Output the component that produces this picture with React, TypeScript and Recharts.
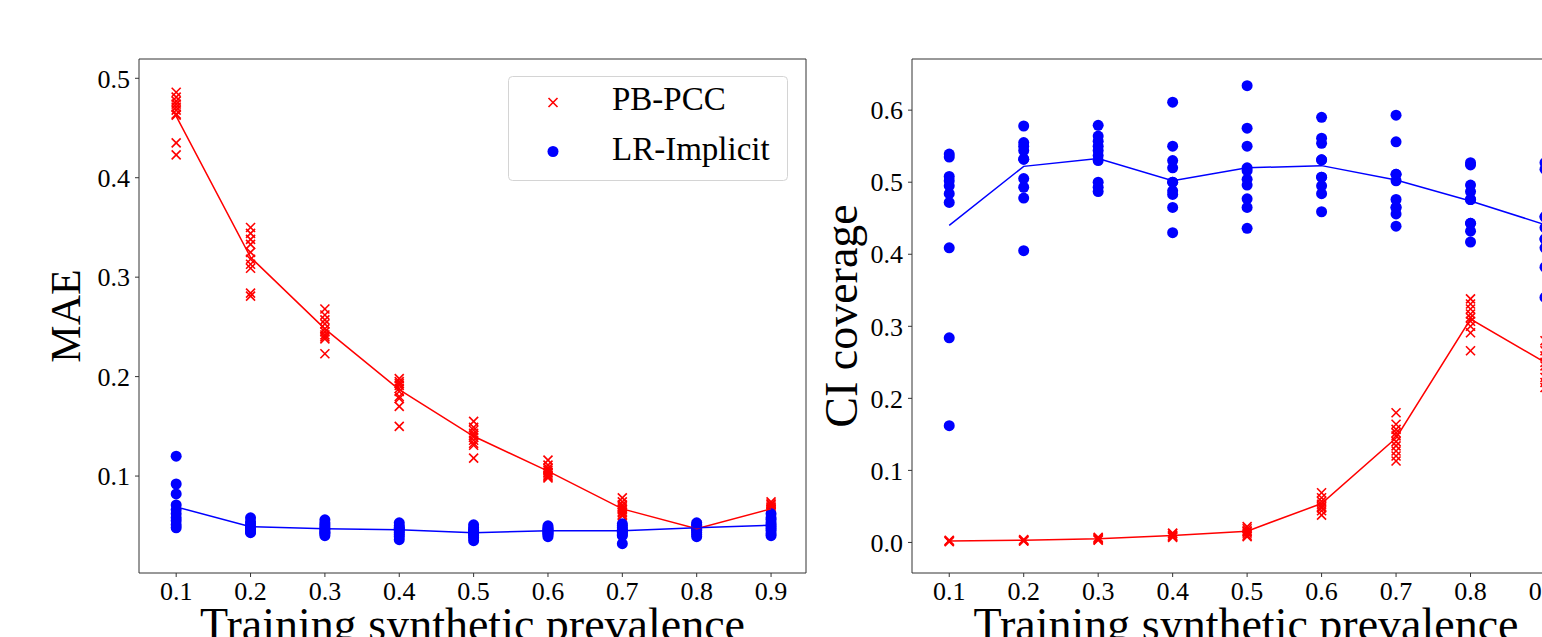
import React from 'react';
import { ScatterChart, Scatter, XAxis, YAxis, ReferenceLine } from 'recharts';

const prevalence = [0.1, 0.2, 0.3, 0.4, 0.5, 0.6, 0.7, 0.8, 0.9];

// MAE panel: one row of runs per training prevalence
const maePbPcc = [
  [0.486, 0.481, 0.477, 0.474, 0.471, 0.468, 0.464, 0.463, 0.435, 0.423],
  [0.35, 0.344, 0.338, 0.333, 0.325, 0.318, 0.313, 0.309, 0.284, 0.281],
  [0.268, 0.262, 0.257, 0.253, 0.248, 0.245, 0.242, 0.24, 0.238, 0.223],
  [0.198, 0.195, 0.193, 0.191, 0.188, 0.185, 0.18, 0.178, 0.17, 0.15],
  [0.155, 0.149, 0.146, 0.143, 0.141, 0.139, 0.136, 0.133, 0.131, 0.118],
  [0.116, 0.111, 0.108, 0.106, 0.104, 0.103, 0.101, 0.1, 0.099, 0.098],
  [0.078, 0.074, 0.071, 0.069, 0.067, 0.066, 0.064, 0.063, 0.061, 0.06],
  [0.051, 0.05, 0.049, 0.048, 0.047, 0.047, 0.046, 0.046, 0.045, 0.045],
  [0.074, 0.072, 0.071, 0.069, 0.068, 0.067, 0.066, 0.065, 0.064, 0.063],
];
const maeLrImplicit = [
  [0.12, 0.092, 0.082, 0.071, 0.066, 0.062, 0.058, 0.055, 0.051, 0.048],
  [0.058, 0.054, 0.052, 0.049, 0.048, 0.047, 0.046, 0.045, 0.044, 0.043],
  [0.056, 0.053, 0.051, 0.049, 0.047, 0.046, 0.044, 0.043, 0.042, 0.04],
  [0.053, 0.05, 0.048, 0.047, 0.046, 0.045, 0.043, 0.041, 0.039, 0.036],
  [0.051, 0.048, 0.046, 0.045, 0.044, 0.043, 0.042, 0.04, 0.038, 0.035],
  [0.05, 0.048, 0.047, 0.046, 0.045, 0.044, 0.043, 0.042, 0.041, 0.039],
  [0.052, 0.05, 0.048, 0.046, 0.045, 0.044, 0.043, 0.041, 0.04, 0.032],
  [0.053, 0.051, 0.05, 0.048, 0.047, 0.046, 0.045, 0.043, 0.041, 0.039],
  [0.062, 0.058, 0.056, 0.053, 0.051, 0.049, 0.047, 0.045, 0.042, 0.04],
];
const maePbPccMean = [0.462, 0.32, 0.248, 0.187, 0.14, 0.105, 0.067, 0.047, 0.067];
const maeLrImplicitMean = [0.069, 0.049, 0.047, 0.046, 0.043, 0.045, 0.045, 0.048, 0.0505];

// CI coverage panel
const ciPbPcc = [
  [0.002, 0.002, 0.001, 0.002, 0.003],
  [0.004, 0.003, 0.002, 0.003, 0.002],
  [0.007, 0.006, 0.005, 0.004, 0.003],
  [0.013, 0.012, 0.01, 0.009, 0.008, 0.007],
  [0.022, 0.019, 0.016, 0.015, 0.013, 0.01, 0.008],
  [0.069, 0.062, 0.057, 0.053, 0.05, 0.048, 0.044, 0.038],
  [0.18, 0.164, 0.157, 0.152, 0.148, 0.14, 0.134, 0.127, 0.12, 0.113],
  [0.338, 0.331, 0.324, 0.317, 0.312, 0.307, 0.3, 0.291, 0.266],
  [0.28, 0.266, 0.259, 0.25, 0.245, 0.229, 0.222, 0.215],
];
const ciLrImplicit = [
  [0.539, 0.535, 0.508, 0.502, 0.495, 0.484, 0.472, 0.409, 0.284, 0.162],
  [0.578, 0.555, 0.55, 0.544, 0.532, 0.532, 0.505, 0.493, 0.478, 0.405],
  [0.579, 0.564, 0.557, 0.55, 0.544, 0.537, 0.53, 0.5, 0.493, 0.487],
  [0.611, 0.55, 0.53, 0.52, 0.5, 0.5, 0.488, 0.483, 0.465, 0.43],
  [0.634, 0.575, 0.55, 0.52, 0.516, 0.504, 0.496, 0.477, 0.465, 0.436],
  [0.59, 0.561, 0.554, 0.531, 0.531, 0.507, 0.507, 0.495, 0.484, 0.459],
  [0.593, 0.556, 0.511, 0.511, 0.502, 0.476, 0.465, 0.465, 0.456, 0.439],
  [0.527, 0.524, 0.496, 0.487, 0.476, 0.476, 0.443, 0.443, 0.432, 0.417],
  [0.527, 0.518, 0.452, 0.452, 0.437, 0.421, 0.421, 0.409, 0.382, 0.34],
];
const ciPbPccMean = [0.002, 0.003, 0.005, 0.0097, 0.0157, 0.054, 0.145, 0.31, 0.25];
const ciLrImplicitMean = [0.44, 0.522, 0.533, 0.502, 0.52, 0.523, 0.503, 0.474, 0.441];

const maeTicks = [0.1, 0.2, 0.3, 0.4, 0.5];
const ciTicks = [0.0, 0.1, 0.2, 0.3, 0.4, 0.5, 0.6];

const X_DOMAIN: [number, number] = [0.05, 0.947];
const FONT = '"Liberation Serif", "DejaVu Serif", serif';
const RED = '#ff0000';
const BLUE = '#0000ff';
const AXIS = '#333333';

const toPoints = (rows: number[][]) =>
  rows.flatMap((row, i) => row.map((y) => ({ x: prevalence[i], y })));
const toLine = (means: number[]) => means.map((y, i) => ({ x: prevalence[i], y }));

const Cross = (props: any) => {
  const { cx, cy } = props;
  const r = 4.5;
  return (
    <g stroke={RED} strokeWidth={1.6}>
      <line x1={cx - r} y1={cy - r} x2={cx + r} y2={cy + r} />
      <line x1={cx - r} y1={cy + r} x2={cx + r} y2={cy - r} />
    </g>
  );
};
const Dot = (props: any) => <circle cx={props.cx} cy={props.cy} r={5.5} fill={BLUE} />;
const NoMark = () => <g />;

interface PanelProps {
  left: number;
  width: number;
  marginRight: number;
  yDomain: [number, number];
  yTicks: number[];
  yLabel: string;
  yLabelX: number;
  yLabelSize: number;
  red: number[][];
  blue: number[][];
  redMean: number[];
  blueMean: number[];
}

function Panel(p: PanelProps) {
  const tickStyle = { fill: '#000', fontSize: 26, fontFamily: FONT };
  return (
    <div style={{ position: 'absolute', left: p.left, top: 0 }}>
      <ScatterChart width={p.width} height={637} margin={{ top: 59, right: p.marginRight, bottom: 0, left: 0 }}>
        <XAxis
          type="number"
          dataKey="x"
          domain={X_DOMAIN}
          ticks={prevalence}
          allowDataOverflow
          height={64}
          tickSize={4}
          tickMargin={5}
          tick={tickStyle}
          tickFormatter={(v: number) => v.toFixed(1)}
          axisLine={{ stroke: AXIS }}
          tickLine={{ stroke: AXIS }}
          label={{
            content: (lp: any) => {
              const vb = lp.viewBox || { x: 139, y: 573, width: 667 };
              return (
                <text x={vb.x + vb.width / 2} y={vb.y + 67} textAnchor="middle" fontSize={46} fontFamily={FONT} fill="#000">
                  Training synthetic prevalence
                </text>
              );
            },
          }}
        />
        <YAxis
          type="number"
          dataKey="y"
          domain={p.yDomain}
          ticks={p.yTicks}
          allowDataOverflow
          width={139}
          tickSize={4}
          tickMargin={5}
          tick={tickStyle}
          tickFormatter={(v: number) => v.toFixed(1)}
          axisLine={{ stroke: AXIS }}
          tickLine={{ stroke: AXIS }}
          label={{
            content: (lp: any) => {
              const vb = lp.viewBox || { y: 59, height: 514 };
              const cy = vb.y + vb.height / 2;
              return (
                <text
                  x={p.yLabelX}
                  y={cy}
                  transform={`rotate(-90 ${p.yLabelX} ${cy})`}
                  textAnchor="middle"
                  fontSize={p.yLabelSize}
                  fontFamily={FONT}
                  fill="#000"
                >
                  {p.yLabel}
                </text>
              );
            },
          }}
        />
        {/* top and right spines of the frame */}
        <ReferenceLine y={p.yDomain[1]} stroke={AXIS} strokeWidth={1} ifOverflow="visible" />
        <ReferenceLine x={X_DOMAIN[1]} stroke={AXIS} strokeWidth={1} ifOverflow="visible" />
        <Scatter name="PB-PCC" data={toPoints(p.red)} shape={Cross} isAnimationActive={false} />
        <Scatter name="LR-Implicit" data={toPoints(p.blue)} shape={Dot} isAnimationActive={false} />
        <Scatter data={toLine(p.redMean)} line={{ stroke: RED, strokeWidth: 1.5 }} shape={NoMark} isAnimationActive={false} />
        <Scatter data={toLine(p.blueMean)} line={{ stroke: BLUE, strokeWidth: 1.5 }} shape={NoMark} isAnimationActive={false} />
      </ScatterChart>
    </div>
  );
}

function LegendBox() {
  return (
    <svg width={284} height={110} style={{ position: 'absolute', left: 506, top: 74 }}>
      <rect x={2.5} y={2.5} width={279} height={104} rx={4} fill="rgba(255,255,255,0.8)" stroke="#d4d4d4" />
      <g stroke={RED} strokeWidth={1.6}>
        <line x1={42.5} y1={24} x2={51.5} y2={33} />
        <line x1={42.5} y1={33} x2={51.5} y2={24} />
      </g>
      <text x={106} y={36} fontSize={33} fontFamily={FONT} fill="#000">PB-PCC</text>
      <circle cx={47} cy={77.5} r={5.5} fill={BLUE} />
      <text x={106} y={86} fontSize={33} fontFamily={FONT} fill="#000">LR-Implicit</text>
    </svg>
  );
}

export default function App() {
  return (
    <div style={{ position: 'absolute', left: 0, top: 0, width: 1542, height: 637, overflow: 'hidden', background: '#fff' }}>
      <Panel
        left={0}
        width={830}
        marginRight={24}
        yDomain={[0.0025, 0.5194]}
        yTicks={maeTicks}
        yLabel="MAE"
        yLabelX={80}
        yLabelSize={42}
        red={maePbPcc}
        blue={maeLrImplicit}
        redMean={maePbPccMean}
        blueMean={maeLrImplicitMean}
      />
      <Panel
        left={773}
        width={827}
        marginRight={20}
        yDomain={[-0.0424, 0.671]}
        yTicks={ciTicks}
        yLabel="CI coverage"
        yLabelX={84}
        yLabelSize={46}
        red={ciPbPcc}
        blue={ciLrImplicit}
        redMean={ciPbPccMean}
        blueMean={ciLrImplicitMean}
      />
      <LegendBox />
    </div>
  );
}
